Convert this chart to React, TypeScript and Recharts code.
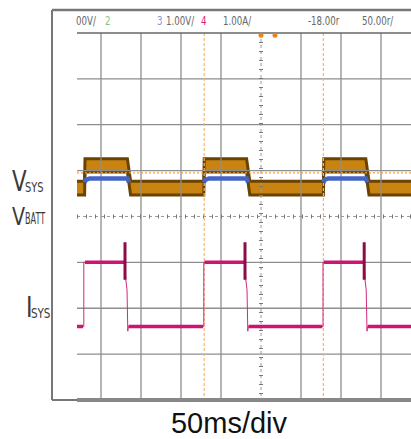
import React from "react";
import { ComposedChart, XAxis, YAxis, Line, Area, ReferenceLine, ReferenceDot } from "recharts";

// time in ms (50 ms/div), level in divisions
const T_MIN = -261.25;
const T_MAX = 187.5;
const TRACE_START = -230;
const Y_MIN = -4;
const Y_MAX = 4.5;

const gridTimes = [-200, -150, -100, -50, 50, 100, 150];
const gridLevels = [3, 2, 1, -1, -2, -3];
const cursorTimes = [-71, 78];
const triggerLevel = 0.95;

// VSYS (orange band)
const vsysTimes = [-230, -220.5, -220, -167, -163, -71.5, -71, -18, -14, 78, 78.5, 131, 135, 187.5];
const vsysLow = [0.47, 0.47, 0.97, 0.97, 0.47, 0.47, 0.97, 0.97, 0.47, 0.47, 0.97, 0.97, 0.47, 0.47];
const vsysHigh = [0.77, 0.77, 1.26, 1.26, 0.77, 0.77, 1.26, 1.26, 0.77, 0.77, 1.26, 1.26, 0.77, 0.77];

// VBATT (blue) – only visible while VSYS is high (hidden under the band otherwise)
const vbattTimes = [-220.5, -219, -214, -167, -165, -164, -71.5, -70, -65, -18, -16, -15, 78, 79.5, 84, 131, 133, 134];
const vbattValues = [0.74, 0.8, 0.83, 0.83, 0.74, null, 0.74, 0.8, 0.83, 0.83, 0.74, null, 0.74, 0.8, 0.83, 0.83, 0.74, null];

// ISYS (magenta) thin full path
const isysTimes = [-230, -221.5, -221.5, -170, -169, -167.5, -166.5, -166, -71.5, -71.5, -20, -19, -17.5, -16.5, -16, 77.5, 77.5, 129, 130, 131.5, 132.5, 133, 187.5];
const isysValues = [-2.4, -2.4, -1.0, -1.0, -1.38, -1.6, -2.5, -2.4, -2.4, -1.0, -1.0, -1.38, -1.6, -2.5, -2.4, -2.4, -1.0, -1.0, -1.38, -1.6, -2.5, -2.4, -2.4];

// ISYS thick plateaus (null = gap)
const isysFlatTimes = [-230, -222.5, -222, -220, -170.5, -169, -165.5, -72.5, -72, -70.5, -20.5, -19, -15.5, 76.5, 77, 78.5, 128.5, 130, 133.5, 187.5];
const isysFlatValues = [-2.4, -2.4, null, -1.0, -1.0, null, -2.4, -2.4, null, -1.0, -1.0, null, -2.4, -2.4, null, -1.0, -1.0, null, -2.4, -2.4];

// ISYS spikes at turn-off
const spikeTimes = [-170, -170, -169.5, -20, -20, -19.5, 129, 129, 129.5];
const spikeValues = [-0.56, -1.38, null, -0.56, -1.38, null, -0.56, -1.38, null];

const markerTimes = [0, 17.5];
const markerLevel = 3.95;

const vsysData = vsysTimes.map((t, i) => ({ t, band: [vsysLow[i], vsysHigh[i]] }));
const vbattData = vbattTimes.map((t, i) => ({ t, v: vbattValues[i] }));
const isysData = isysTimes.map((t, i) => ({ t, v: isysValues[i] }));
const isysFlatData = isysFlatTimes.map((t, i) => ({ t, v: isysFlatValues[i] }));
const spikeData = spikeTimes.map((t, i) => ({ t, v: spikeValues[i] }));

const GRID = "#8e8e8e";
const FRAME = "#777";

const narrow = "'Liberation Sans Narrow', 'DejaVu Sans Condensed', 'Liberation Sans', sans-serif";

const Abs = ({ left, top, size, color = "#444", scale = 1, children }: any) => (
  <div
    style={{
      position: "absolute",
      left,
      top,
      fontSize: size,
      lineHeight: 1,
      color,
      fontFamily: narrow,
      whiteSpace: "nowrap",
      transform: `scaleX(${scale})`,
      transformOrigin: "left top",
    }}
  >
    {children}
  </div>
);

export default function App() {
  return (
    <div style={{ position: "absolute", left: 0, top: 0, width: 411, height: 439, background: "#fff", overflow: "hidden" }}>
      <ComposedChart width={411} height={439} margin={{ top: 10, right: 0, bottom: 39, left: 52 }}>
        <XAxis type="number" dataKey="t" domain={[T_MIN, T_MAX]} hide allowDataOverflow />
        <YAxis type="number" domain={[Y_MIN, Y_MAX]} hide allowDataOverflow />

        {gridTimes.map((t) => (
          <ReferenceLine key={"vx" + t} ifOverflow="visible" segment={[{ x: t, y: 4 }, { x: t, y: Y_MIN }]} stroke={GRID} strokeWidth={1.3} />
        ))}
        {gridLevels.map((y) => (
          <ReferenceLine key={"hy" + y} ifOverflow="visible" segment={[{ x: TRACE_START, y }, { x: T_MAX, y }]} stroke={GRID} strokeWidth={1.3} />
        ))}
        {/* center axes with ticks */}
        <ReferenceLine ifOverflow="visible" segment={[{ x: 0, y: 4 }, { x: 0, y: Y_MIN }]} stroke="#999" strokeWidth={1} strokeDasharray="3 3" />
        <ReferenceLine ifOverflow="visible" segment={[{ x: 0, y: 4 }, { x: 0, y: Y_MIN }]} stroke="#777" strokeWidth={4} strokeDasharray="1 8" />
        <ReferenceLine ifOverflow="visible" segment={[{ x: TRACE_START, y: 0 }, { x: T_MAX, y: 0 }]} stroke="#999" strokeWidth={1} strokeDasharray="3 3" />
        <ReferenceLine ifOverflow="visible" segment={[{ x: TRACE_START, y: 0 }, { x: T_MAX, y: 0 }]} stroke="#777" strokeWidth={4} strokeDasharray="1 8" />

        {/* cursors */}
        {cursorTimes.map((t) => (
          <ReferenceLine key={"c" + t} ifOverflow="visible" segment={[{ x: t, y: 4 }, { x: t, y: Y_MIN }]} stroke="#f5b56e" strokeWidth={1.2} strokeDasharray="3 2" />
        ))}

        {/* frame */}
        <ReferenceLine ifOverflow="visible" segment={[{ x: T_MIN, y: Y_MAX }, { x: T_MIN, y: Y_MIN }]} stroke={FRAME} strokeWidth={2} />
        <ReferenceLine ifOverflow="visible" segment={[{ x: T_MIN, y: Y_MAX }, { x: T_MAX, y: Y_MAX }]} stroke={FRAME} strokeWidth={2.5} />
        <ReferenceLine ifOverflow="visible" segment={[{ x: TRACE_START, y: 4 }, { x: T_MAX, y: 4 }]} stroke="#666" strokeWidth={1.5} />
        <ReferenceLine ifOverflow="visible" segment={[{ x: T_MIN, y: Y_MIN }, { x: T_MAX, y: Y_MIN }]} stroke={FRAME} strokeWidth={2} />
        <ReferenceLine ifOverflow="visible" segment={[{ x: TRACE_START, y: Y_MIN }, { x: T_MAX, y: Y_MIN }]} stroke="#888" strokeWidth={4} />

        <Area data={vsysData} dataKey="band" type="linear" stroke="#6a4300" strokeWidth={3} fill="#c98310" fillOpacity={1} dot={false} activeDot={false} isAnimationActive={false} />
        <Line data={vbattData} dataKey="v" type="linear" stroke="#4565c4" strokeWidth={4.5} dot={false} activeDot={false} isAnimationActive={false} />

        <ReferenceLine ifOverflow="visible" segment={[{ x: TRACE_START, y: triggerLevel }, { x: T_MAX, y: triggerLevel }]} stroke="#f0a040" strokeWidth={1.2} strokeDasharray="2 2" />

        <Line data={isysData} dataKey="v" type="linear" stroke="#d02a7a" strokeWidth={1} dot={false} activeDot={false} isAnimationActive={false} />
        <Line data={isysFlatData} dataKey="v" type="linear" stroke="#cc1470" strokeWidth={3.5} dot={false} activeDot={false} isAnimationActive={false} />
        <Line data={spikeData} dataKey="v" type="linear" stroke="#8c0c48" strokeWidth={3} dot={false} activeDot={false} isAnimationActive={false} />

        {markerTimes.map((t) => (
          <ReferenceDot key={"m" + t} x={t} y={markerLevel} r={2.5} fill="#e8861a" stroke="none" ifOverflow="visible" />
        ))}
      </ComposedChart>

      {/* header */}
      <Abs left={76} top={15} size={12} color="#666" scale={0.8}>00V/</Abs>
      <Abs left={105} top={15} size={12} color="#7fc77f" scale={0.8}>2</Abs>
      <Abs left={157} top={15} size={12} color="#9090d8" scale={0.8}>3</Abs>
      <Abs left={166} top={15} size={12} color="#666" scale={0.8}>1.00V/</Abs>
      <Abs left={201} top={15} size={12} color="#e0206e" scale={0.8}>4</Abs>
      <Abs left={223} top={15} size={12} color="#666" scale={0.8}>1.00A/</Abs>
      <Abs left={308} top={15} size={12} color="#666" scale={0.8}>-18.00r</Abs>
      <Abs left={362} top={15} size={12} color="#666" scale={0.8}>50.00r/</Abs>

      {/* left labels */}
      <Abs left={12} top={168} size={28} color="#3a3a3a" scale={0.85}>V</Abs>
      <Abs left={25} top={180} size={14} color="#3a3a3a" scale={0.78}>SYS</Abs>
      <Abs left={12} top={204} size={25} color="#3a3a3a" scale={0.85}>V</Abs>
      <Abs left={25} top={212} size={15} color="#3a3a3a" scale={0.6}>BATT</Abs>
      <Abs left={26} top={293} size={29} color="#3a3a3a" scale={0.85}>I</Abs>
      <Abs left={31} top={306} size={14} color="#3a3a3a" scale={0.82}>SYS</Abs>

      <div
        style={{
          position: "absolute",
          left: 129,
          top: 409,
          width: 200,
          textAlign: "center",
          fontSize: 29,
          lineHeight: 1,
          fontFamily: "'Liberation Sans', Arial, sans-serif",
          color: "#111",
        }}
      >
        50ms/div
      </div>
    </div>
  );
}
